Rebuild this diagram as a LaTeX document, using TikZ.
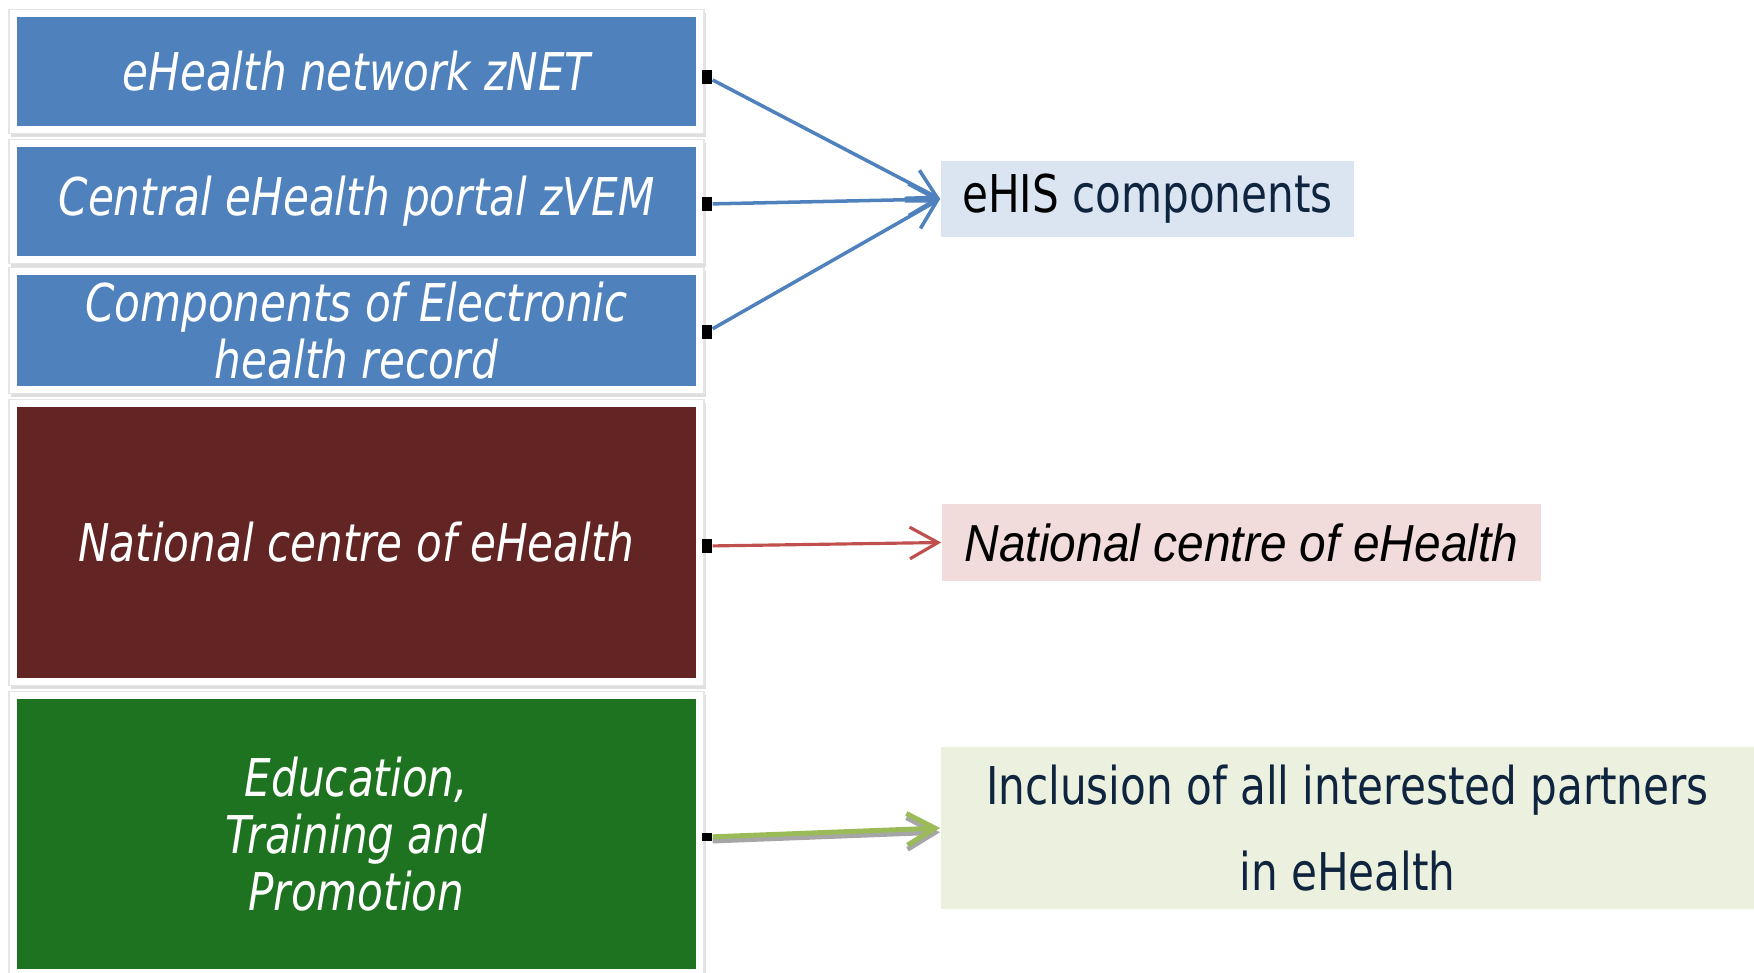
\documentclass[tikz,border=0pt]{standalone}
\usepackage{fontspec}
\newfontfamily\tahoma[FakeStretch=0.9]{DejaVu Sans Condensed}
\newfontfamily\arialfont[FakeStretch=0.92]{Liberation Sans}
\usetikzlibrary{positioning,arrows.meta,shadows,backgrounds}
\definecolor{ehblue}{HTML}{4F81BD}
\definecolor{ehred}{HTML}{632523}
\definecolor{ehgreen}{HTML}{1E7320}
\definecolor{lightblue}{HTML}{DBE5F1}
\definecolor{lightred}{HTML}{F2DCDB}
\definecolor{lightgreen}{HTML}{EBF1DE}
\definecolor{navy}{HTML}{0F243E}
\definecolor{redline}{HTML}{C0504D}
\definecolor{greenline}{HTML}{9BBB59}
\begin{document}
\begin{tikzpicture}[x=0.01cm,y=-0.01cm,
  leftbox/.style={minimum width=6.79cm,inner sep=0pt,align=center,text=white,
    font=\tahoma\itshape\fontsize{14.8}{16.2}\selectfont},
  rightbox/.style={inner sep=0pt,align=center,
    font=\tahoma\fontsize{14.8}{24.5}\selectfont},
  pin/.style={fill=black,minimum width=2.8pt,minimum height=4pt,inner sep=0pt},
  frame/.style={fill=white,draw=black!10,drop shadow={shadow xshift=0.5pt,shadow yshift=-1pt,opacity=0.25}},
  link/.style={line width=1pt,-{Straight Barb[length=8pt,width=9pt]}}]
\useasboundingbox (0,0) rectangle (1754,973);

% left hand
\node[leftbox,fill=ehblue,minimum height=109*0.01cm] (net) at (356.5,71.5) {eHealth network zNET};
\node[leftbox,fill=ehblue,minimum height=109*0.01cm] (portal) at (356.5,201.5) {Central eHealth portal zVEM};
\node[leftbox,fill=ehblue,minimum height=111*0.01cm] (record) at (356.5,330.5) {Components of Electronic\\health record};
\node[leftbox,fill=ehred,minimum height=271*0.01cm] (centre) at (356.5,542.5) {National centre of eHealth};
\node[leftbox,fill=ehgreen,minimum height=270*0.01cm] (edu) at (356.5,834) {Education,\\Training and\\Promotion};
\begin{scope}[on background layer]
\foreach \b in {net,portal,record,centre,edu}
  \draw[frame] ([xshift=-2pt,yshift=2pt]\b.north west) rectangle ([xshift=2pt,yshift=-2pt]\b.south east);
\end{scope}

% right hand
\node[rightbox,fill=lightblue,minimum width=4.13cm,minimum height=0.76cm] (ehis) at (1147.5,199)
  {eHIS \textcolor{navy}{components}};
\node[rightbox,fill=lightred,minimum width=5.99cm,minimum height=0.77cm,
  font=\arialfont\itshape\fontsize{14.8}{17}\selectfont] (nat) at (1241.5,542.5) {National centre of eHealth};
\node[rightbox,fill=lightgreen,text=navy,minimum width=8.13cm,minimum height=1.62cm] (incl) at (1347.5,828)
  {Inclusion of all interested partners\\in eHealth};

% arrows
\node[pin] (p1) at (707,77) {};
\node[pin] (p2) at (707,204) {};
\node[pin] (p3) at (707,332) {};
\node[pin] (p4) at (707,546) {};
\node[pin,minimum height=2pt] (p5) at (707,837) {};
\draw[link,ehblue] (p1) -- (ehis.west);
\draw[link,ehblue] (p2) -- (ehis.west);
\draw[link,ehblue] (p3) -- (ehis.west);
\draw[link,redline,line width=0.9pt] (p4) -- (nat.west);
\draw[link,black!35,line width=1.4pt,transform canvas={yshift=-1.2pt}] (p5) -- (incl.west);
\draw[link,greenline,line width=1.4pt] (p5) -- (incl.west);
\end{tikzpicture}
\end{document}
